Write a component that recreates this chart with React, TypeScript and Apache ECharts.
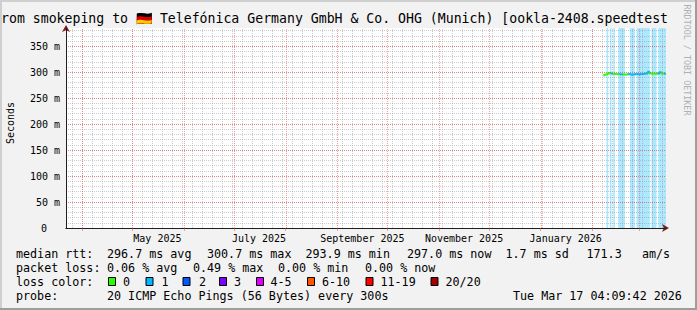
import React, { useEffect, useRef } from 'react';
import * as echarts from 'echarts';

const DAY = 86400000;
const END_TIME = Date.UTC(2026, 2, 17, 4, 9, 42);
const SPAN_DAYS = 360;
const START_TIME = END_TIME - SPAN_DAYS * DAY;
const Y_MAX = 385;

const monthStarts = ['2025-04-01', '2025-05-01', '2025-06-01', '2025-07-01', '2025-08-01', '2025-09-01', '2025-10-01', '2025-11-01', '2025-12-01', '2026-01-01', '2026-02-01', '2026-03-01'];
const monthLabelDates = ['2025-05-16', '2025-07-16', '2025-09-16', '2025-11-16', '2026-01-16'];
const monthLabels = ['May 2025', 'July 2025', 'September 2025', 'November 2025', 'January 2026'];
const firstMinorGridDate = '2025-03-26';
const minorGridStepDays = 6;

const yLabelValues = [0, 50, 100, 150, 200, 250, 300, 350];
const yLabelTexts = ['0', '50 m', '100 m', '150 m', '200 m', '250 m', '300 m', '350 m'];

const sampleStart = '2026-02-07T12:00:00Z';
const sampleStepHours = 24;
const medianRttMs = [293.9, 295.2, 296.0, 297.6, 298.4, 297.5, 297.0, 296.5, 296.3, 296.0, 296.1, 295.8, 295.6, 295.7, 295.5, 295.8, 295.9, 295.7, 295.6, 295.9, 296.0, 296.2, 296.1, 296.4, 296.6, 297.0, 297.6, 300.7, 297.8, 297.2, 297.0, 297.1, 296.9, 297.4, 299.8, 297.6, 297.2, 297.0];
const lineLossPct = [0, 0, 0, 0, 0, 0.05, 0, 0, 0, 0, 0.05, 0.05, 0, 0, 0, 0.05, 0.06, 0.05, 0.05, 0.04, 0.06, 0.05, 0.07, 0.05, 0.06, 0.05, 0.08, 0.1, 0, 0, 0, 0, 0, 0.06, 0.08, 0, 0, 0.05];
const bgLossPct = [0, 0, 0.3, 0, 0.25, 0, 0.2, 0, 0, 0.3, 0.4, 0.35, 0.2, 0, 0, 0, 0.3, 0.25, 0.3, 0, 0.35, 0.3, 0.4, 0.3, 0.35, 0.3, 0.45, 0.49, 0, 0.3, 0.25, 0.3, 0, 0.3, 0.4, 0.35, 0.3, 0.25];

const pingsPerProbe = 20;
const lossClassMax = [0, 1, 2, 3, 5, 10, 19, 20];
const lossClassLabels = ['0', '1', '2', '3', '4-5', '6-10', '11-19', '20/20'];
const lossClassColors = ['#26ff00', '#00b8ff', '#0059ff', '#7e00ff', '#dd00ff', '#ff5500', '#ff0000', '#a10000'];

const titleText = 'rom smokeping to \u{1F1E9}\u{1F1EA} Telef\u00f3nica Germany GmbH & Co. OHG (Munich) [ookla-2408.speedtest';
const yAxisName = 'Seconds';
const watermark = 'RRDTOOL / TOBI OETIKER';
const rttStats = ['296.7 ms avg', '300.7 ms max', '293.9 ms min', '297.0 ms now', '1.7 ms sd', '171.3', 'am/s'];
const lossStats = ['0.06 % avg', '0.49 % max', '0.00 % min', '0.00 % now'];
const probeText = '20 ICMP Echo Pings (56 Bytes) every 300s';
const stampText = 'Tue Mar 17 04:09:42 2026';

const MONO = '"DejaVu Sans Mono", monospace';
const GRID_COLOR = 'rgba(143,143,143,0.45)';
const MGRID_COLOR = 'rgba(230,70,70,0.5)';
const ARROW_COLOR = '#801f1f';
const AXIS_COLOR = '#1f1f1f';

function lossClass(pct: number): number {
  const pings = (pct / 100) * pingsPerProbe;
  if (pings <= 0) return 0;
  for (let i = 1; i < lossClassMax.length; i++) {
    if (pings <= lossClassMax[i]) return i;
  }
  return lossClassMax.length - 1;
}

function hexToRgba(hex: string, a: number) {
  const n = parseInt(hex.slice(1), 16);
  return `rgba(${(n >> 16) & 255},${(n >> 8) & 255},${n & 255},${a})`;
}

export default function App() {
  const ref = useRef<HTMLDivElement>(null);

  useEffect(() => {
    if (!ref.current) return;
    const chart = echarts.init(ref.current, undefined, { renderer: 'svg' });

    const step = sampleStepHours * 3600000;
    const t0 = Date.parse(sampleStart);
    const sampleTimes = medianRttMs.map((_, i) => t0 + i * step);
    const monthTimes = monthStarts.map((d) => Date.parse(d + 'T00:00:00Z'));
    const labelTimes = monthLabelDates.map((d) => Date.parse(d + 'T00:00:00Z'));
    const minorTimes: number[] = [];
    for (let t = Date.parse(firstMinorGridDate + 'T00:00:00Z'); t < END_TIME; t += minorGridStepDays * DAY) {
      minorTimes.push(t);
    }

    const lineData = medianRttMs.map((v, i) => [sampleTimes[i], v, i > 0 ? medianRttMs[i - 1] : v, lineLossPct[i]]);
    const bgData = bgLossPct.map((l, i) => [sampleTimes[i], Y_MAX, l]);

    const vLine = (color: string) => (params: any, api: any) => {
      const t = api.value(0);
      const a = api.coord([t, 0]);
      const b = api.coord([t, Y_MAX]);
      const x = Math.round(a[0]) + 0.5;
      return {
        type: 'line',
        shape: { x1: x, y1: Math.round(a[1]), x2: x, y2: Math.round(b[1]) },
        style: { stroke: color, lineWidth: 1, lineDash: [1, 1] },
      };
    };

    const textEl = (text: string, x: number, y: number, size = 11.7, extra: any = {}) => ({
      type: 'text',
      silent: true,
      style: {
        text,
        x,
        y,
        fill: '#000',
        fontSize: size,
        fontFamily: MONO,
        textVerticalAlign: 'middle',
        ...extra,
      },
    });

    const rttX = [107, 207, 305.5, 407, 505.5, 586.5, 642];
    const lossX = [107, 193, 278, 365];
    const boxX = [108, 145.5, 182.5, 219, 256, 307, 365.5, 430.5];
    const boxLabelX = [123, 161.5, 199, 234, 270.5, 322, 380.5, 445.5];

    const graphics: any[] = [
      { type: 'rect', silent: true, shape: { x: 0, y: 0, width: 697, height: 2 }, style: { fill: '#cfcfcf' } },
      { type: 'rect', silent: true, shape: { x: 0, y: 0, width: 2, height: 310 }, style: { fill: '#cfcfcf' } },
      { type: 'rect', silent: true, shape: { x: 695, y: 0, width: 2, height: 310 }, style: { fill: '#9e9e9e' } },
      { type: 'rect', silent: true, shape: { x: 0, y: 308, width: 697, height: 2 }, style: { fill: '#9e9e9e' } },
      textEl(titleText, 1, 18, 13.2),
      {
        type: 'text',
        silent: true,
        x: 10.5,
        y: 123,
        rotation: Math.PI / 2,
        style: { text: yAxisName, x: 0, y: 0, fill: '#000', fontSize: 10, fontFamily: MONO, textAlign: 'center', textVerticalAlign: 'middle' },
      },
      {
        type: 'text',
        silent: true,
        x: 687,
        y: 60,
        rotation: -Math.PI / 2,
        style: { text: watermark, x: 0, y: 0, fill: '#b0b0b0', fontSize: 8.4, fontFamily: MONO, textAlign: 'center', textVerticalAlign: 'middle' },
      },
      textEl('median rtt:', 16, 254),
      ...rttStats.map((s, i) => textEl(s, rttX[i], 254)),
      textEl('packet loss:', 16, 268),
      ...lossStats.map((s, i) => textEl(s, lossX[i], 268)),
      textEl('loss color:', 16, 282),
      ...lossClassLabels.map((s, i) => textEl(s, boxLabelX[i], 282)),
      ...lossClassColors.map((c, i) => ({
        type: 'rect',
        silent: true,
        shape: { x: boxX[i] + 0.5, y: 277.5, width: 7, height: 8 },
        style: { fill: c, stroke: '#000', lineWidth: 1 },
      })),
      textEl('probe:', 16, 296),
      textEl(probeText, 107, 296),
      textEl(stampText, 513, 296),
    ];

    const option: any = {
      animation: false,
      backgroundColor: '#f2f2f2',
      grid: { left: 66, right: 31, top: 28, bottom: 82, show: true, backgroundColor: '#ffffff', borderWidth: 0 },
      xAxis: [
        {
          type: 'value', min: START_TIME, max: END_TIME, position: 'bottom', z: 5,
          axisLine: { show: true, lineStyle: { color: ARROW_COLOR, width: 1 }, symbol: ['none', 'arrow'], symbolSize: [6, 7], symbolOffset: [0, 3] },
          axisTick: { show: false }, axisLabel: { show: false }, splitLine: { show: false },
        },
        {
          type: 'value', min: START_TIME, max: END_TIME, position: 'bottom', z: 7,
          axisLine: { show: true, lineStyle: { color: AXIS_COLOR, width: 1 } },
          axisTick: { show: true, customValues: monthTimes, length: 3, lineStyle: { color: MGRID_COLOR } },
          axisLabel: {
            show: true, customValues: labelTimes, margin: 5, fontSize: 10, fontFamily: MONO, color: '#000',
            formatter: (v: number) => {
              const i = labelTimes.findIndex((t) => Math.abs(t - v) < 1000);
              return i >= 0 ? monthLabels[i] : '';
            },
          },
          splitLine: { show: false },
        },
      ],
      yAxis: [
        {
          type: 'value', min: 0, max: Y_MAX, interval: 10, position: 'left', z: 4,
          axisLine: { show: false }, axisTick: { show: false }, axisLabel: { show: false },
          splitLine: { show: true, showMinLine: false, showMaxLine: false, lineStyle: { color: GRID_COLOR, width: 1, type: [1, 1] } },
        },
        {
          type: 'value', min: 0, max: Y_MAX, interval: 50, position: 'left', z: 5,
          axisLine: { show: true, lineStyle: { color: ARROW_COLOR, width: 1 }, symbol: ['none', 'arrow'], symbolSize: [6, 7], symbolOffset: [0, 3] },
          axisTick: { show: false }, axisLabel: { show: false }, splitLine: { show: false },
        },
        {
          type: 'value', min: 0, max: Y_MAX, interval: 50, position: 'left', z: 7,
          axisLine: { show: true, lineStyle: { color: AXIS_COLOR, width: 1 } },
          axisTick: { show: false },
          axisLabel: {
            show: true, margin: 6, fontSize: 10, fontFamily: MONO, color: '#000',
            formatter: (v: number) => {
              const i = yLabelValues.indexOf(v);
              if (i < 0) return '';
              return i === 0 ? '{z|' + yLabelTexts[0] + '}' : yLabelTexts[i];
            },
            rich: { z: { fontSize: 10, fontFamily: MONO, color: '#000', padding: [0, 13, 0, 0] } },
          },
          splitLine: { show: true, showMinLine: false, showMaxLine: false, lineStyle: { color: MGRID_COLOR, width: 1, type: [1, 1] } },
        },
      ],
      series: [
        {
          type: 'custom', name: 'loss background', xAxisIndex: 1, yAxisIndex: 2, z: 1, silent: true,
          data: bgData,
          renderItem: (params: any, api: any) => {
            const l = api.value(2);
            const c = lossClass(l);
            if (c === 0) return null;
            const t = api.value(0);
            const t2 = Math.min(t + step, END_TIME);
            const a = api.coord([t, Y_MAX]);
            const b = api.coord([t2, 0]);
            return {
              type: 'rect',
              shape: { x: a[0], y: a[1], width: b[0] - a[0], height: b[1] - a[1] },
              style: { fill: hexToRgba(lossClassColors[c], 0.33) },
            };
          },
        },
        {
          type: 'custom', name: 'median rtt', xAxisIndex: 1, yAxisIndex: 2, z: 3, silent: true,
          data: lineData,
          renderItem: (params: any, api: any) => {
            const t = api.value(0);
            const v = api.value(1);
            const prev = api.value(2);
            const c = lossClass(api.value(3));
            const t2 = Math.min(t + step, END_TIME);
            const p0 = api.coord([t, prev]);
            const p1 = api.coord([t, v]);
            const p2 = api.coord([t2, v]);
            return {
              type: 'polyline',
              shape: { points: [p0, p1, p2] },
              style: { stroke: lossClassColors[c], lineWidth: 2, fill: 'none' },
            };
          },
        },
        {
          type: 'custom', name: 'minor grid', xAxisIndex: 1, yAxisIndex: 2, z: 4, silent: true,
          data: minorTimes.map((t) => [t, 0]),
          renderItem: vLine(GRID_COLOR),
        },
        {
          type: 'custom', name: 'major grid', xAxisIndex: 1, yAxisIndex: 2, z: 6, silent: true,
          data: monthTimes.map((t) => [t, 0]),
          renderItem: vLine(MGRID_COLOR),
        },
      ],
      graphic: graphics,
    };

    chart.setOption(option);
    return () => chart.dispose();
  }, []);

  return <div ref={ref} style={{ position: 'fixed', left: 0, top: 0, width: 697, height: 310 }} />;
}
